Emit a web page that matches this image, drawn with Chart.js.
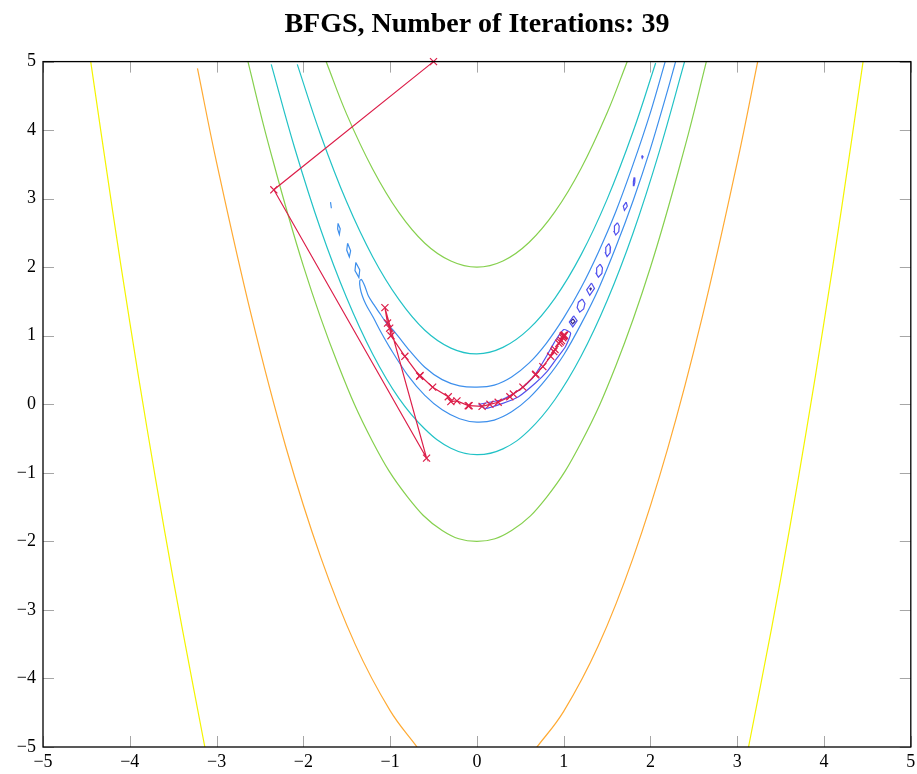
<!DOCTYPE html>
<html>
<head>
<meta charset="utf-8">
<script src="https://cdn.jsdelivr.net/npm/chart.js@4.4.1/dist/chart.umd.min.js"></script>
<style>
  body { margin: 0; background: #fff; }
  #wrap { width: 917px; height: 774px; }
</style>
</head>
<body>
<div id="wrap"><canvas id="contourChart"></canvas></div>
<script>
const tickValues = [-5, -4, -3, -2, -1, 0, 1, 2, 3, 4, 5];

// contour lines, [x, y] pairs
const yellowLeft = [[-4.45, 5.0], [-4.2, 2.84], [-4.0, 1.2], [-3.8, -0.36], [-3.6, -1.84], [-3.4, -3.24], [-3.135, -5.0]];
const yellowRight = [[3.13, -5.0], [3.4, -3.24], [3.6, -1.84], [3.8, -0.36], [4.0, 1.2], [4.2, 2.84], [4.45, 5.0]];
const orangeLeft = [[-3.22, 4.9], [-3.0, 3.53], [-2.6, 1.3], [-2.2, -0.63], [-1.8, -2.23], [-1.4, -3.51], [-1.0, -4.47], [-0.69, -5.0]];
const orangeRight = [[0.68, -5.02], [1.0, -4.48], [1.4, -3.52], [1.8, -2.24], [2.2, -0.64], [2.6, 1.29], [3.0, 3.53], [3.25, 5.09]];
const greenOuter = [[-2.65, 5.06], [-2.4, 3.79], [-2.0, 2.02], [-1.6, 0.58], [-1.2, -0.55], [-0.8, -1.35], [-0.4, -1.84], [0.0, -2.0],
  [0.4, -1.84], [0.8, -1.36], [1.2, -0.56], [1.6, 0.56], [2.0, 2.0], [2.4, 3.77], [2.65, 5.03]];
const greenInner = [[-1.74, 5.01], [-1.5, 4.23], [-1.2, 3.43], [-0.9, 2.8], [-0.6, 2.35], [-0.3, 2.09], [0.0, 2.0],
  [0.3, 2.09], [0.6, 2.36], [0.9, 2.81], [1.2, 3.44], [1.5, 4.25], [1.735, 5.01]];
const tealOuter = [[-2.37, 4.96], [-2.1, 3.74], [-1.8, 2.55], [-1.5, 1.55], [-1.2, 0.73], [-0.9, 0.09], [-0.6, -0.36], [-0.3, -0.64], [0.0, -0.735],
  [0.3, -0.65], [0.6, -0.38], [0.9, 0.07], [1.2, 0.7], [1.5, 1.51], [1.8, 2.5], [2.1, 3.68], [2.4, 5.03]];
const tealInner = [[-2.07, 4.96], [-1.8, 3.93], [-1.5, 2.95], [-1.2, 2.15], [-0.9, 1.53], [-0.6, 1.08], [-0.3, 0.82], [0.0, 0.735],
  [0.3, 0.83], [0.6, 1.1], [0.9, 1.55], [1.2, 2.18], [1.5, 2.99], [1.8, 3.98], [2.06, 4.98]];
const blueLoop = [[2.17, 5.0], [2.0, 4.26], [1.8, 3.5], [1.6, 2.81], [1.4, 2.22], [1.2, 1.7], [1.0, 1.26], [0.8, 0.89], [0.6, 0.6],
  [0.4, 0.4], [0.2, 0.28], [0.0, 0.25], [-0.2, 0.27], [-0.4, 0.36], [-0.6, 0.54], [-0.8, 0.82], [-0.95, 1.06], [-1.04, 1.18],
  [-1.11, 1.31], [-1.185, 1.45], [-1.25, 1.58], [-1.29, 1.72], [-1.33, 1.82], [-1.35, 1.8], [-1.345, 1.7], [-1.32, 1.58],
  [-1.28, 1.46], [-1.2, 1.28], [-1.1, 1.04], [-1.0, 0.82], [-0.8, 0.43], [-0.6, 0.13], [-0.4, -0.08], [-0.2, -0.21], [0.0, -0.26],
  [0.2, -0.23], [0.4, -0.11], [0.6, 0.09], [0.8, 0.37], [1.0, 0.72], [1.2, 1.17], [1.4, 1.68], [1.6, 2.29], [1.8, 2.97],
  [2.0, 3.73], [2.2, 4.59], [2.29, 5.0]];
const violetLoop = [[0.02, 0.0], [0.29, 0.07], [0.48, 0.2], [0.64, 0.38], [0.73, 0.55], [0.81, 0.72], [0.91, 0.94], [1.0, 1.09],
  [1.08, 1.04], [1.02, 0.84], [0.92, 0.67], [0.81, 0.48], [0.675, 0.31], [0.48, 0.11], [0.29, 0.01], [0.1, -0.06], [0.02, 0.0]];

// small closed islands left by the coarse grid
const blueIslands = [
  [[-1.687, 2.95], [-1.677, 2.86], [-1.687, 2.95]],
  [[-1.60, 2.64], [-1.575, 2.56], [-1.585, 2.48], [-1.605, 2.56], [-1.60, 2.64]],
  [[-1.49, 2.35], [-1.455, 2.24], [-1.47, 2.15], [-1.50, 2.25], [-1.49, 2.35]],
  [[-1.395, 2.07], [-1.35, 1.96], [-1.36, 1.85], [-1.405, 1.95], [-1.395, 2.07]]
];
const violetIslands = [
  [[1.905, 3.63], [1.915, 3.61], [1.905, 3.59], [1.9, 3.61], [1.905, 3.63]],
  [[1.812, 3.31], [1.82, 3.24], [1.81, 3.19], [1.803, 3.25], [1.812, 3.31]],
  [[1.72, 2.95], [1.733, 2.89], [1.70, 2.83], [1.687, 2.89], [1.72, 2.95]],
  [[1.62, 2.65], [1.64, 2.6], [1.635, 2.52], [1.6, 2.47], [1.58, 2.52], [1.585, 2.6], [1.62, 2.65]],
  [[1.52, 2.345], [1.54, 2.29], [1.535, 2.21], [1.5, 2.155], [1.48, 2.21], [1.485, 2.29], [1.52, 2.345]],
  [[1.42, 2.045], [1.447, 1.99], [1.44, 1.91], [1.4, 1.855], [1.373, 1.91], [1.38, 1.99], [1.42, 2.045]],
  [[1.32, 1.77], [1.355, 1.69], [1.3, 1.59], [1.265, 1.67], [1.32, 1.77]],
  [[1.215, 1.535], [1.245, 1.47], [1.23, 1.39], [1.185, 1.345], [1.155, 1.41], [1.17, 1.49], [1.215, 1.535]],
  [[1.115, 1.29], [1.155, 1.22], [1.105, 1.13], [1.065, 1.2], [1.115, 1.29]]
];
const purpleIslands = [
  [[1.31, 1.7], [1.318, 1.685], [1.31, 1.67], [1.302, 1.685], [1.31, 1.7]],
  [[1.107, 1.245], [1.13, 1.21], [1.103, 1.175], [1.08, 1.21], [1.107, 1.245]]
];

// BFGS iterates
const pathX = [-0.5, -2.34, -0.58, -1.06, -1.03, -1.005, -0.99, -0.83, -0.66, -0.655, -0.51, -0.33, -0.3, -0.23, -0.1, -0.09,
  0.06, 0.15, 0.245, 0.38, 0.42, 0.53, 0.675, 0.68, 0.76, 0.85, 0.886, 0.9, 0.944, 0.96, 0.975, 0.99, 0.995, 1.01, 1.0, 1.0, 1.0, 1.0, 1.0, 1.0];
const pathY = [5.0, 3.13, -0.785, 1.41, 1.185, 1.11, 1.0, 0.7, 0.41, 0.42, 0.25, 0.11, 0.04, 0.05, -0.02, -0.02,
  -0.03, 0.0, 0.03, 0.11, 0.15, 0.25, 0.43, 0.44, 0.55, 0.7, 0.77, 0.8, 0.89, 0.91, 0.93, 0.97, 0.99, 1.01, 1.0, 1.0, 1.0, 1.0, 1.0, 1.0];

const colors = {
  yellow: "#f4f400",
  orange: "#ffaa33",
  green: "#86d04e",
  teal: "#22c2c6",
  blue: "#3d8fec",
  violet: "#5252ee",
  purple: "#3a2a86",
  path: "#dc1f4a"
};

function line(points, color, tension) {
  return {
    data: points.map(p => ({ x: p[0], y: p[1] })),
    showLine: true,
    borderColor: color,
    borderWidth: 1.2,
    pointRadius: 0,
    tension: tension,
    order: 2
  };
}

const datasets = [
  line(yellowLeft, colors.yellow, 0.4),
  line(yellowRight, colors.yellow, 0.4),
  line(orangeLeft, colors.orange, 0.4),
  line(orangeRight, colors.orange, 0.4),
  line(greenOuter, colors.green, 0.4),
  line(greenInner, colors.green, 0.4),
  line(tealOuter, colors.teal, 0.4),
  line(tealInner, colors.teal, 0.4),
  line(blueLoop, colors.blue, 0.3),
  line(violetLoop, colors.violet, 0.2)
];
blueIslands.forEach(p => datasets.push(line(p, colors.blue, 0)));
violetIslands.forEach(p => datasets.push(line(p, colors.violet, 0)));
purpleIslands.forEach(p => datasets.push(line(p, colors.purple, 0)));

datasets.push({
  data: pathX.map((x, i) => ({ x: x, y: pathY[i] })),
  showLine: true,
  borderColor: colors.path,
  borderWidth: 1.2,
  pointStyle: "crossRot",
  pointRadius: 5,
  pointBorderColor: colors.path,
  pointBorderWidth: 1.2,
  tension: 0,
  clip: 8,
  order: 0
});

// pgfplots-like inward ticks and box
const frame = {
  id: "frame",
  afterDraw(chart) {
    const ctx = chart.ctx;
    const a = chart.chartArea;
    const xs = chart.scales.x;
    const ys = chart.scales.y;
    ctx.save();
    ctx.strokeStyle = "#a6a6a6";
    ctx.lineWidth = 1;
    tickValues.forEach(v => {
      const px = Math.round(xs.getPixelForValue(v)) + 0.5;
      ctx.beginPath();
      ctx.moveTo(px, a.bottom); ctx.lineTo(px, a.bottom - 11);
      ctx.moveTo(px, a.top); ctx.lineTo(px, a.top + 11);
      ctx.stroke();
      const py = Math.round(ys.getPixelForValue(v)) + 0.5;
      ctx.beginPath();
      ctx.moveTo(a.left, py); ctx.lineTo(a.left + 11, py);
      ctx.moveTo(a.right, py); ctx.lineTo(a.right - 11, py);
      ctx.stroke();
    });
    ctx.strokeStyle = "#000";
    ctx.lineWidth = 1.3;
    ctx.strokeRect(a.left, a.top, a.right - a.left, a.bottom - a.top);
    ctx.restore();
  }
};

const tickFont = { family: "'Liberation Serif', serif", size: 18 };
const fmt = v => (v < 0 ? "\u2212" + Math.abs(v) : String(v));

new Chart(document.getElementById("contourChart"), {
  type: "scatter",
  data: { datasets: datasets },
  options: {
    responsive: true,
    maintainAspectRatio: false,
    animation: false,
    layout: { padding: { right: 0 } },
    plugins: {
      legend: { display: false },
      tooltip: { enabled: false },
      title: {
        display: true,
        fullSize: false,
        text: "BFGS, Number of Iterations: 39",
        color: "#000",
        font: { family: "'Liberation Serif', serif", size: 28, weight: "bold" },
        padding: { top: 8, bottom: 20 }
      }
    },
    scales: {
      x: {
        type: "linear",
        min: -5,
        max: 5,
        grid: { display: false, drawTicks: false },
        border: { display: false },
        afterBuildTicks: s => { s.ticks = tickValues.map(v => ({ value: v })); },
        afterFit: s => { s.height = 27; s.paddingLeft = 0; s.paddingRight = 5; },
        ticks: { color: "#000", font: tickFont, padding: 4, callback: fmt, maxRotation: 0 }
      },
      y: {
        type: "linear",
        min: -5,
        max: 5,
        grid: { display: false, drawTicks: false },
        border: { display: false },
        afterBuildTicks: s => { s.ticks = tickValues.map(v => ({ value: v })); },
        afterFit: s => { s.width = 43; },
        ticks: { color: "#000", font: tickFont, padding: 7, callback: fmt }
      }
    }
  },
  plugins: [frame]
});
</script>
</body>
</html>
